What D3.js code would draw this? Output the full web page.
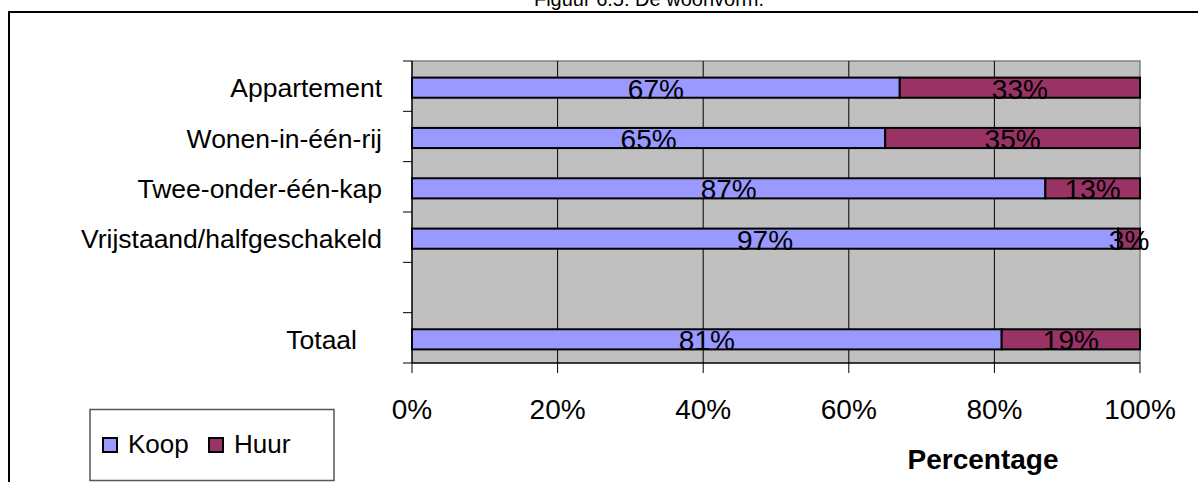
<!DOCTYPE html>
<html>
<head>
<meta charset="utf-8">
<script src="https://cdn.jsdelivr.net/npm/d3@7"></script>
<style>
  html, body { margin: 0; padding: 0; background: #fff; }
  svg { display: block; font-family: "Liberation Sans", Arial, sans-serif; }
</style>
</head>
<body>
<svg id="chart" width="1198" height="482"></svg>
<script>
// Housing type by tenure (share of owner-occupied vs rented)
const categories = ["Appartement", "Wonen-in-één-rij", "Twee-onder-één-kap", "Vrijstaand/halfgeschakeld", "", "Totaal"];
const koop = [67, 65, 87, 97, null, 81];
const huur = [33, 35, 13, 3, null, 19];
const seriesNames = ["Koop", "Huur"];
const seriesColors = ["#9999FF", "#993366"];
const xTicks = [0, 20, 40, 60, 80, 100];
const titleText = "Figuur 6.5: De woonvorm.";
const axisTitle = "Percentage";

const svg = d3.select("#chart");
const W = 1198, H = 482;
const plot = { left: 412, right: 1140, top: 61, bottom: 363 };

const x = d3.scaleLinear().domain([0, 100]).range([plot.left, plot.right]);
const y = d3.scaleBand().domain(categories)
  .range([plot.top, plot.bottom]).paddingInner(0.6).paddingOuter(0.3);
const step = (plot.bottom - plot.top) / categories.length;

// outer frame (continues past the right and bottom edges)
svg.append("path")
  .attr("d", `M9,${H + 5}V12H${W + 5}`)
  .attr("fill", "none").attr("stroke", "#000").attr("stroke-width", 2);

// title
svg.append("text")
  .attr("x", 649).attr("y", 6)
  .attr("text-anchor", "middle")
  .attr("font-size", 20)
  .text(titleText);

// plot background
svg.append("rect")
  .attr("x", plot.left).attr("y", plot.top)
  .attr("width", plot.right - plot.left).attr("height", plot.bottom - plot.top)
  .attr("fill", "#C0C0C0");

// top and right plot border
svg.append("path")
  .attr("d", `M${plot.left},${plot.top}H${plot.right}V${plot.bottom}`)
  .attr("fill", "none").attr("stroke", "#808080").attr("stroke-width", 1.5);

// vertical gridlines
svg.append("g").selectAll("line")
  .data(xTicks.filter(t => t > 0 && t < 100))
  .join("line")
  .attr("x1", d => x(d)).attr("x2", d => x(d))
  .attr("y1", plot.top).attr("y2", plot.bottom)
  .attr("stroke", "#000").attr("stroke-width", 1);

// stacked bars
const rows = categories.map((c, i) => ({ cat: c, koop: koop[i], huur: huur[i] }))
  .filter(r => r.koop != null);
const stack = d3.stack().keys(["koop", "huur"])(rows);
const barShift = 1.5;

const layers = svg.append("g").attr("transform", `translate(0,${barShift})`)
  .selectAll("g").data(stack).join("g")
  .attr("fill", (d, i) => seriesColors[i]);

layers.selectAll("rect").data(d => d).join("rect")
  .attr("x", d => x(d[0]))
  .attr("y", d => y(d.data.cat))
  .attr("width", d => x(d[1]) - x(d[0]))
  .attr("height", y.bandwidth())
  .attr("stroke", "#000").attr("stroke-width", 2);

// value labels centred in each segment
layers.selectAll("text").data(d => d).join("text")
  .attr("x", d => (x(d[0]) + x(d[1])) / 2)
  .attr("y", d => y(d.data.cat) + y.bandwidth() / 2 + 11)
  .attr("text-anchor", "middle")
  .attr("fill", "#000")
  .attr("font-size", 28)
  .text(d => (d[1] - d[0]) + "%");

// y axis line and ticks at category boundaries
svg.append("line")
  .attr("x1", plot.left).attr("x2", plot.left)
  .attr("y1", plot.top).attr("y2", plot.bottom)
  .attr("stroke", "#000").attr("stroke-width", 1.5);
svg.append("g").selectAll("line")
  .data(d3.range(categories.length + 1))
  .join("line")
  .attr("x1", plot.left - 9).attr("x2", plot.left)
  .attr("y1", i => plot.top + i * step).attr("y2", i => plot.top + i * step)
  .attr("stroke", "#000").attr("stroke-width", 1);

// category labels
svg.append("g").selectAll("text")
  .data(categories.filter(c => c !== ""))
  .join("text")
  .attr("x", d => d === "Totaal" ? 357 : 382)
  .attr("y", d => y(d) + barShift + y.bandwidth() / 2 + 9.5)
  .attr("text-anchor", "end")
  .attr("font-size", 26.5)
  .text(d => d);

// x axis
svg.append("line")
  .attr("x1", plot.left).attr("x2", plot.right)
  .attr("y1", plot.bottom).attr("y2", plot.bottom)
  .attr("stroke", "#000").attr("stroke-width", 1.5);
svg.append("g").selectAll("line").data(xTicks).join("line")
  .attr("x1", d => x(d)).attr("x2", d => x(d))
  .attr("y1", plot.bottom).attr("y2", plot.bottom + 10)
  .attr("stroke", "#000").attr("stroke-width", 1);
svg.append("g").selectAll("text").data(xTicks).join("text")
  .attr("x", d => x(d)).attr("y", 419)
  .attr("text-anchor", "middle")
  .attr("font-size", 28)
  .text(d => d + "%");

// axis title
svg.append("text")
  .attr("x", 983).attr("y", 469)
  .attr("text-anchor", "middle")
  .attr("font-size", 28).attr("font-weight", "bold")
  .text(axisTitle);

// legend
const legend = svg.append("g");
legend.append("rect")
  .attr("x", 90).attr("y", 409.5).attr("width", 244).attr("height", 71)
  .attr("fill", "#fff").attr("stroke", "#555").attr("stroke-width", 1.5);
const legendX = [103, 209];
const legendItems = legend.selectAll("g").data(seriesNames).join("g")
  .attr("transform", (d, i) => `translate(${legendX[i]},438)`);
legendItems.append("rect")
  .attr("width", 14).attr("height", 14)
  .attr("fill", (d, i) => seriesColors[i])
  .attr("stroke", "#000").attr("stroke-width", 2);
legendItems.append("text")
  .attr("x", 25).attr("y", 14.5)
  .attr("font-size", 26)
  .text(d => d);
</script>
</body>
</html>
